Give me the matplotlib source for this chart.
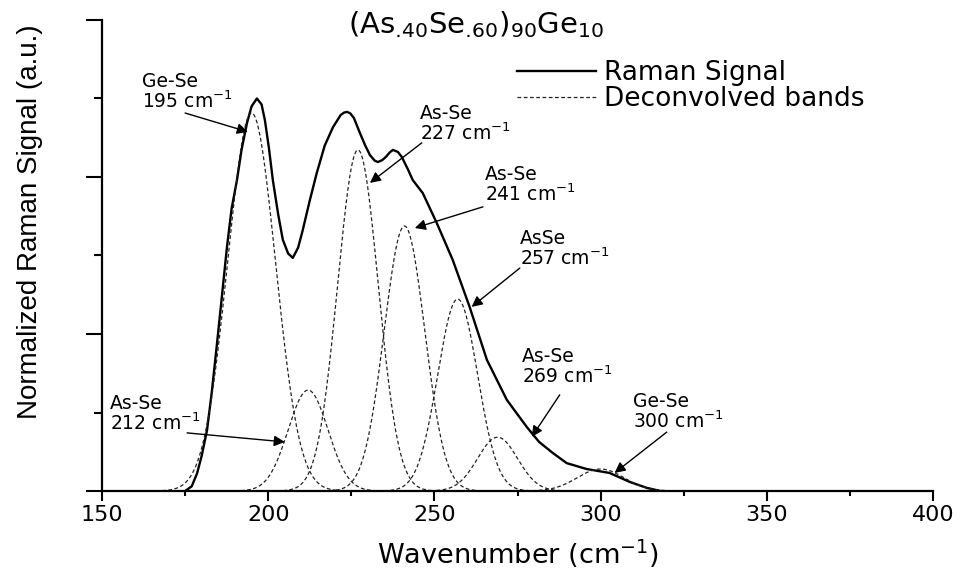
import numpy as np
import matplotlib
matplotlib.use("Agg")
import matplotlib.pyplot as plt
from matplotlib.ticker import MultipleLocator

plt.rcParams["font.family"] = ["DejaVu Sans"]
plt.rcParams["mathtext.fontset"] = "dejavusans"

# Measured Raman signal (normalized)
signal_x = [175.0, 177.0, 178.6, 180.0, 181.6, 183.0, 184.5, 186.0, 187.6, 189.0,
            190.6, 192.0, 193.6, 195.0, 196.6, 198.0, 199.0, 200.2, 201.4, 203.0,
            204.4, 206.0, 207.4, 209.0, 210.4, 212.5, 214.6, 217.0, 219.5, 221.8,
            222.8, 223.7, 224.7, 225.8, 227.6, 229.2, 230.6, 232.0, 233.0, 234.3,
            235.5, 236.6, 237.5, 239.0, 240.2, 242.0, 243.5, 246.5, 250.7, 255.5,
            260.6, 265.8, 271.8, 277.8, 281.5, 285.6, 289.8, 295.8, 302.7, 308.8,
            313.9, 318.0]
signal_y = [0.000, 0.012, 0.045, 0.090, 0.155, 0.250, 0.368, 0.490, 0.622, 0.720,
            0.792, 0.870, 0.937, 0.980, 1.000, 0.985, 0.945, 0.875, 0.792, 0.705,
            0.640, 0.605, 0.594, 0.620, 0.665, 0.740, 0.810, 0.880, 0.927, 0.958,
            0.964, 0.966, 0.962, 0.950, 0.912, 0.880, 0.856, 0.842, 0.838, 0.843,
            0.852, 0.863, 0.869, 0.864, 0.851, 0.820, 0.792, 0.759, 0.683, 0.589,
            0.469, 0.334, 0.232, 0.163, 0.125, 0.097, 0.071, 0.056, 0.046, 0.023,
            0.008, 0.000]

# Deconvolved Gaussian bands: centre (cm-1), height, sigma (cm-1)
band_centers = [195, 212, 227, 241, 257, 269, 300]
band_heights = [0.963, 0.257, 0.869, 0.675, 0.489, 0.137, 0.056]
band_sigmas = [7.2, 6.0, 6.1, 6.1, 6.0, 6.0, 7.0]
band_names = ["Ge-Se", "As-Se", "As-Se", "As-Se", "AsSe", "As-Se", "Ge-Se"]

# label text corner, arrow tail and arrow head (data coordinates)
label_pos = [(162.0, 1.068), (152.4, 0.248), (245.6, 0.986), (265.2, 0.831),
             (275.7, 0.668), (276.3, 0.367), (309.6, 0.253)]
arrow_tail = [(175.0, 0.963), (175.6, 0.148), (246.2, 0.887), (264.6, 0.724),
              (275.7, 0.568), (287.7, 0.245), (319.9, 0.150)]
arrow_head = [(193.9, 0.915), (205.0, 0.125), (230.6, 0.785), (244.1, 0.670),
              (261.2, 0.469), (279.3, 0.138), (304.2, 0.046)]

fig = plt.figure(figsize=(9.61, 5.71), dpi=100)
ax = fig.add_axes([102 / 961, 1 - 491 / 571, (933 - 102) / 961, (491 - 20) / 571])

ax.plot(signal_x, signal_y, color="black", lw=1.7, label="Raman Signal")

for i, (c, h, s) in enumerate(zip(band_centers, band_heights, band_sigmas)):
    xx = np.linspace(c - 4 * s, c + 4 * s, 200)
    yy = h * np.exp(-((xx - c) ** 2) / (2 * s ** 2))
    ax.plot(xx, yy, color="#222222", lw=0.9, ls=(0, (3, 2)),
            label="Deconvolved bands" if i == 0 else None)

for name, c, tp, tail, head in zip(band_names, band_centers, label_pos,
                                   arrow_tail, arrow_head):
    ax.text(tp[0], tp[1], f"{name}\n{c} cm$^{{-1}}$", fontsize=13.5,
            ha="left", va="top", linespacing=1.0)
    ax.annotate("", xy=head, xytext=tail,
                arrowprops=dict(arrowstyle="-|>", color="black", lw=1.0,
                                mutation_scale=16, shrinkA=0, shrinkB=0))

ax.set_xlim(150, 400)
ax.set_ylim(0, 1.2)
ax.xaxis.set_major_locator(MultipleLocator(50))
ax.xaxis.set_minor_locator(MultipleLocator(25))
ax.yaxis.set_major_locator(MultipleLocator(0.4))
ax.yaxis.set_minor_locator(MultipleLocator(0.2))
ax.set_yticklabels([])

for side in ["top", "right"]:
    ax.spines[side].set_visible(False)
for side in ["left", "bottom"]:
    ax.spines[side].set_linewidth(1.6)

ax.tick_params(axis="x", which="major", length=7, width=1.5, labelsize=16, pad=3)
ax.tick_params(axis="x", which="minor", length=3.5, width=1.5)
ax.tick_params(axis="y", which="major", length=11.5, width=1.5)
ax.tick_params(axis="y", which="minor", length=5.8, width=1.5)

ax.set_xlabel("Wavenumber (cm$^{-1}$)", fontsize=19.5, labelpad=9)
ax.set_ylabel("Normalized Raman Signal (a.u.)", fontsize=20,
              family=["Liberation Sans", "DejaVu Sans"])
ax.yaxis.set_label_coords(-0.071, 0.571)

# U+2024 keeps mathtext from padding the leading dot of the fractions
fig.text(476 / 961, 1 - 33 / 571, "(As$_{\u202440}$Se$_{\u202460}$)$_{90}$Ge$_{10}$",
         fontsize=21, ha="center", va="baseline")

ax.legend(loc="upper left", bbox_to_anchor=(517 / 961, 1 - 60 / 571),
          bbox_transform=fig.transFigure, frameon=False, fontsize=19,
          handlelength=3.0, handletextpad=0.3, labelspacing=0.0,
          borderpad=0, borderaxespad=0)

fig.savefig("out.png", dpi=100)
